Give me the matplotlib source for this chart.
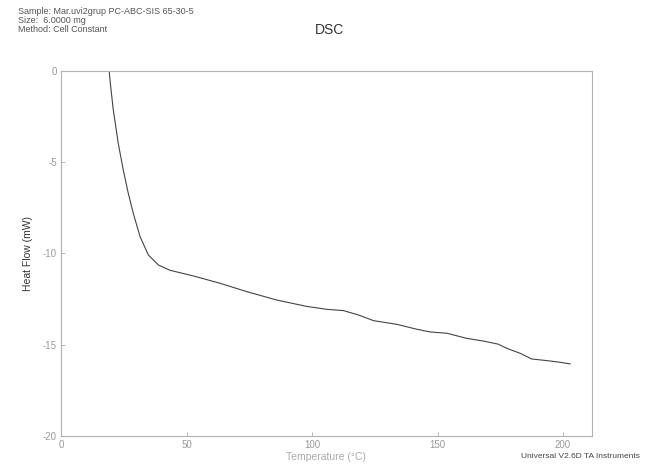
import numpy as np
import matplotlib.pyplot as plt

plt.rcParams['font.family'] = ['Liberation Sans', 'DejaVu Sans']
plt.rcParams['axes.unicode_minus'] = False

# DSC trace
temp = [19.2, 19.6, 20.8, 22.8, 24.8, 26.8, 28.8, 31.5, 34.8, 38.8, 43.4,
        52.7, 63.3, 74.0, 85.9, 97.9, 105.9, 112.5, 118.5, 124.5, 133.7,
        141.7, 147.0, 153.7, 161.6, 168.3, 174.2, 177.6, 182.9, 187.5,
        193.5, 198.8, 202.8]
heat_flow = [0.0, -0.6, -2.1, -3.96, -5.42, -6.7, -7.8, -9.08, -10.08, -10.63,
             -10.92, -11.23, -11.63, -12.09, -12.55, -12.9, -13.06, -13.13,
             -13.37, -13.68, -13.88, -14.15, -14.3, -14.37, -14.65, -14.8,
             -14.97, -15.2, -15.47, -15.78, -15.87, -15.96, -16.05]

x_ticks = [0, 50, 100, 150, 200]
y_ticks = [0, -5, -10, -15, -20]

fig = plt.figure(figsize=(6.46, 4.67), dpi=100)
ax = fig.add_axes([0.0944, 0.0664, 0.822, 0.7816])

ax.plot(temp, heat_flow, color='#444444', linewidth=0.8)

ax.set_xlim(0, 211.5)
ax.set_ylim(-20, 0)
ax.set_xticks(x_ticks)
ax.set_yticks(y_ticks)
ax.tick_params(labelsize=7, colors='#aaaaaa', labelcolor='#999999',
               direction='in', length=3, width=0.6, pad=3)
for s in ax.spines.values():
    s.set_color('#b0b0b0')
    s.set_linewidth(0.8)
    s.set_linestyle((0, (1, 1)))

ax.set_xlabel('Temperature (°C)', fontsize=7.5, color='#aaaaaa', labelpad=1)
ax.set_ylabel('Heat Flow (mW)', fontsize=7.5, color='#333333', labelpad=7)

fig.text(0.028, 0.985, 'Sample: Mar.uvi2grup PC-ABC-SIS 65-30-5\n'
         'Size:  6.0000 mg\nMethod: Cell Constant',
         fontsize=6.5, color='#555555', va='top', ha='left', linespacing=1.0)
fig.text(0.51, 0.935, 'DSC', fontsize=10, color='#333333', ha='center', va='center')
fig.text(0.99, 0.022, 'Universal V2.6D TA Instruments', fontsize=6, color='#444444',
         ha='right', va='center')

fig.savefig('out.png', dpi=100)
